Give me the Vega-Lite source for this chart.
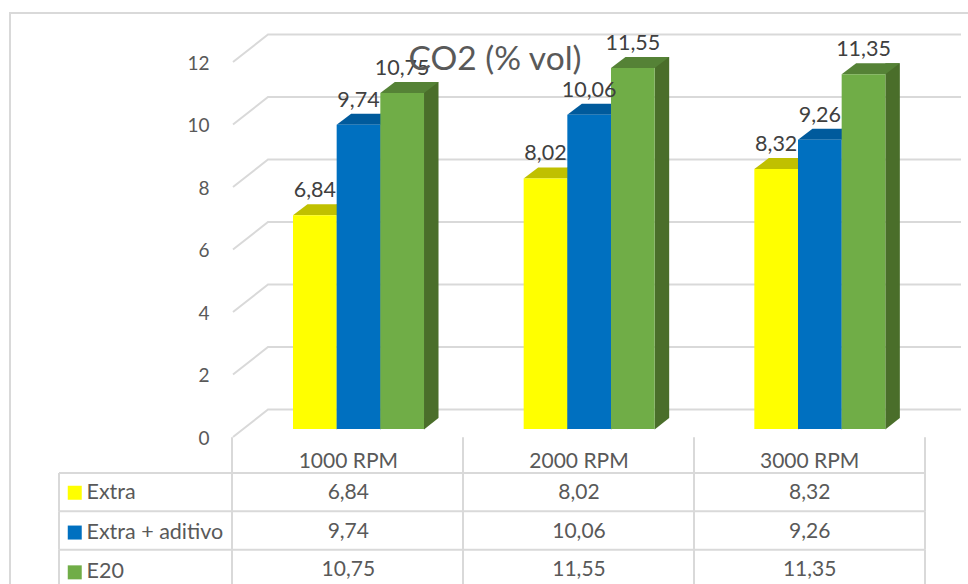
{
"$schema":"https://vega.github.io/schema/vega-lite/v6.json",
"width":968,"height":584,"autosize":{"type":"none"},"padding":0,"background":"white",
"config":{"view":{"stroke":null},"font":"Lato","locale":{"number":{"decimal":",","thousands":".","grouping":[3],"currency":["","€"]}},
"legend":{"orient":"none","legendX":64,"legendY":482,"title":null,"symbolType":"square","symbolSize":196,"symbolStrokeWidth":0,"labelFontSize":21.5,"labelColor":"#595959","labelFont":"Lato","labelOffset":1,"rowPadding":16.8,"labelLimit":200}},
"title":{"text":"CO2 (% vol)","font":"Lato","fontSize":33.5,"fontWeight":"normal","color":"#595959","anchor":"middle","frame":"group","dx":11,"dy":81},
"datasets":{"rows":[
{"rpm":"1000 RPM","serie":"Extra","valor":6.84},{"rpm":"1000 RPM","serie":"Extra + aditivo","valor":9.74},{"rpm":"1000 RPM","serie":"E20","valor":10.75},
{"rpm":"2000 RPM","serie":"Extra","valor":8.02},{"rpm":"2000 RPM","serie":"Extra + aditivo","valor":10.06},{"rpm":"2000 RPM","serie":"E20","valor":11.55},
{"rpm":"3000 RPM","serie":"Extra","valor":8.32},{"rpm":"3000 RPM","serie":"Extra + aditivo","valor":9.26},{"rpm":"3000 RPM","serie":"E20","valor":11.35}],
"ticks":[{"tick":0},{"tick":2},{"tick":4},{"tick":6},{"tick":8},{"tick":10},{"tick":12}],
"series":[{"serie":"Extra"},{"serie":"Extra + aditivo"},{"serie":"E20"}]},
"resolve":{"scale":{"y":"independent","color":"independent","xOffset":"independent"},"axis":{"y":"independent"}},
"layer":[
{"data":{"values":[{"frame":1}]},"mark":{"type":"point","filled":false,"size":4,"stroke":"#d9d9d9","strokeWidth":2,"opacity":1,"shape":"M-474 292 L-474 -279 L484 -279"},"encoding":{}},
{"data":{"name":"ticks"},"mark":{"type":"point","filled":false,"size":4,"stroke":"#d9d9d9","strokeWidth":2,"opacity":1,"shape":"M-251 8 L-216 -19.5 L477 -19.5"},
 "encoding":{"y":{"field":"tick","type":"quantitative","scale":{"domain":[0,12],"range":[429,54]},"axis":{"orient":"left","offset":-233,"domain":false,"ticks":false,"grid":false,"labelPadding":24,"labelOffset":9,"labelFontSize":19,"labelColor":"#595959","labelFont":"Lato","values":[0,2,4,6,8,10,12],"title":null,"format":"d"}}}},
{"data":{"name":"series"},"mark":{"type":"point","filled":false,"size":4,"stroke":"#d9d9d9","strokeWidth":2,"opacity":1,"shape":"M-425 -19.2 L441 -19.2 M-425 -19.2 L-425 19.2 M-252 -19.2 L-252 19.2 M-21 -19.2 L-21 19.2 M210 -19.2 L210 19.2 M441 -19.2 L441 19.2"},
 "encoding":{"y":{"field":"serie","type":"nominal","sort":["Extra","Extra + aditivo","E20"],"scale":{"type":"band","domain":["Extra","Extra + aditivo","E20"],"range":[473,588],"paddingInner":0,"paddingOuter":0},"axis":null}}},
{"data":{"values":[{"serie":"Extra"}]},"mark":{"type":"point","filled":false,"size":4,"stroke":"#d9d9d9","strokeWidth":2,"opacity":1,"shape":"M-252 -19.2 L-252 -55 M-21 -19.2 L-21 -55 M210 -19.2 L210 -55 M441 -19.2 L441 -55"},
 "encoding":{"y":{"field":"serie","type":"nominal","scale":{"type":"band","domain":["Extra","Extra + aditivo","E20"],"range":[473,588],"paddingInner":0,"paddingOuter":0},"axis":null}}},
{"data":{"name":"rows"},"mark":{"type":"rule","strokeWidth":14.5,"strokeCap":"butt","yOffset":-11,"y2Offset":-11},
 "encoding":{"x":{"field":"rpm","type":"nominal","scale":{"type":"band","domain":["1000 RPM","2000 RPM","3000 RPM"],"range":[233,925],"paddingInner":0,"paddingOuter":0},"axis":{"orient":"bottom","offset":-134,"domain":false,"ticks":false,"labelPadding":0,"labelAngle":0,"labelFontSize":21,"labelColor":"#595959","labelFont":"Lato","title":null}},
 "xOffset":{"field":"serie","type":"nominal","scale":{"type":"band","domain":["Extra","Extra + aditivo","E20"],"range":[89.1,220.1],"paddingInner":0,"paddingOuter":0}},
 "y":{"field":"valor","type":"quantitative","stack":null,"scale":{"domain":[0,12],"range":[429,54]},"axis":null},
 "y2":{"datum":0},
 "color":{"field":"serie","type":"nominal","scale":{"domain":["Extra","Extra + aditivo","E20"],"range":["#9a9a00","#004a80","#4a6e2a"]},"legend":null}}},
{"data":{"name":"rows"},"mark":{"type":"point","filled":true,"size":4,"opacity":1,"strokeWidth":0,"shape":"M21.8 0.5 L36.3 -11 L21.8 -11 Z"},
 "encoding":{"x":{"field":"rpm","type":"nominal"},"xOffset":{"field":"serie","type":"nominal","scale":{"type":"band","domain":["Extra","Extra + aditivo","E20"],"range":[60,191],"paddingInner":0,"paddingOuter":0}},
 "y":{"datum":0,"type":"quantitative","scale":{"domain":[0,12],"range":[429,54]},"axis":null},
 "color":{"field":"serie","type":"nominal","scale":{"domain":["Extra","Extra + aditivo","E20"],"range":["#9a9a00","#004a80","#4a6e2a"]},"legend":null}}},
{"data":{"name":"rows"},"mark":{"type":"point","filled":true,"size":4,"opacity":1,"strokeWidth":0,"shape":"M-21.85 0 L21.85 0 L36.35 -11 L-7.35 -11 Z"},
 "encoding":{"x":{"field":"rpm","type":"nominal"},"xOffset":{"field":"serie","type":"nominal","scale":{"type":"band","domain":["Extra","Extra + aditivo","E20"],"range":[60,191],"paddingInner":0,"paddingOuter":0}},
 "y":{"field":"valor","type":"quantitative","scale":{"domain":[0,12],"range":[429,54]},"axis":null},
 "color":{"field":"serie","type":"nominal","scale":{"domain":["Extra","Extra + aditivo","E20"],"range":["#c0c000","#005a9c","#558236"]},"legend":null}}},
{"data":{"name":"rows"},"mark":{"type":"bar"},
 "encoding":{"x":{"field":"rpm","type":"nominal"},"xOffset":{"field":"serie","type":"nominal","scale":{"type":"band","domain":["Extra","Extra + aditivo","E20"],"range":[60,191],"paddingInner":0,"paddingOuter":0}},
 "y":{"field":"valor","type":"quantitative","stack":null,"scale":{"domain":[0,12],"range":[429,54]},"axis":null},
 "color":{"field":"serie","type":"nominal","sort":["Extra","Extra + aditivo","E20"],"scale":{"domain":["Extra","Extra + aditivo","E20"],"range":["#ffff00","#0070c0","#70ad47"]},"legend":{"values":["Extra","Extra + aditivo","E20"]}}}},
{"data":{"name":"rows"},"mark":{"type":"text","font":"Lato","fontSize":21.5,"color":"#404040","dy":-24,"baseline":"middle"},
 "encoding":{"x":{"field":"rpm","type":"nominal"},"xOffset":{"field":"serie","type":"nominal","scale":{"type":"band","domain":["Extra","Extra + aditivo","E20"],"range":[60,191],"paddingInner":0,"paddingOuter":0}},
 "y":{"field":"valor","type":"quantitative","scale":{"domain":[0,12],"range":[429,54]},"axis":null},
 "text":{"field":"valor","type":"quantitative","format":".2f"}}},
{"data":{"name":"rows"},"mark":{"type":"text","font":"Lato","fontSize":21,"color":"#595959","baseline":"middle","dy":1},
 "encoding":{"x":{"field":"rpm","type":"nominal"},
 "y":{"field":"serie","type":"nominal","scale":{"type":"band","domain":["Extra","Extra + aditivo","E20"],"range":[473,588],"paddingInner":0,"paddingOuter":0},"axis":null},
 "text":{"field":"valor","type":"quantitative","format":".2f"}}}
]}
